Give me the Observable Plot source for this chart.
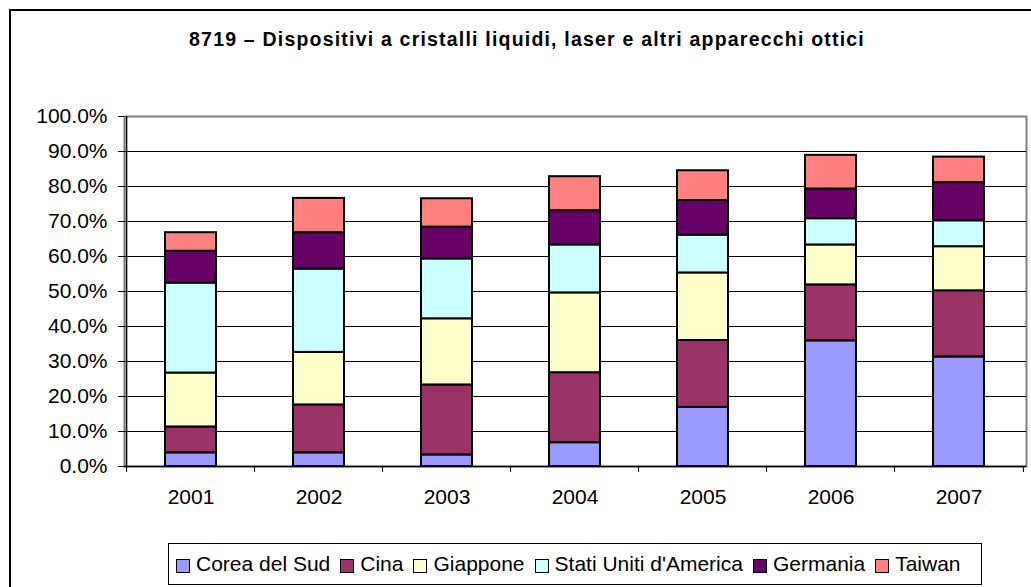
<!DOCTYPE html>
<html>
<head>
<meta charset="utf-8">
<script src="https://cdn.jsdelivr.net/npm/d3@7"></script>
<script src="https://cdn.jsdelivr.net/npm/@observablehq/plot@0.6"></script>
<style>
  html, body { margin: 0; padding: 0; background: #fff; overflow: hidden; width: 1031px; height: 587px; }
  body { position: relative; font-family: "Liberation Sans", Arial, sans-serif; }
  #frame { position: absolute; left: 9px; top: 9px; width: 1100px; height: 700px; border: 2px solid #000; box-sizing: border-box; }
  #title { position: absolute; left: 0; width: 1054px; top: 30px; text-align: center; font-weight: bold; font-size: 19.5px; letter-spacing: 1.2px; line-height: 19px; color: #000; white-space: nowrap; }
  #chart { position: absolute; left: 0; top: 0; }
  #legend { position: absolute; left: 168px; top: 543px; width: 814px; height: 42px; border: 1px solid #000; box-sizing: border-box; display: flex; align-items: center; padding-left: 7px; font-size: 21px; white-space: nowrap; }
  .item { display: flex; align-items: center; margin-right: 10px; }
  .sw { width: 12px; height: 12px; border: 1.5px solid #000; margin-right: 6px; margin-top: 3px; }
</style>
</head>
<body>
<div id="frame"></div>
<div id="title"></div>
<div id="chart"></div>
<div id="legend"></div>
<script>
const titleText = "8719 – Dispositivi a cristalli liquidi, laser e altri apparecchi ottici";
const years = ["2001", "2002", "2003", "2004", "2005", "2006", "2007"];
const seriesNames = ["Corea del Sud", "Cina", "Giappone", "Stati Uniti d'America", "Germania", "Taiwan"];
const seriesColors = ["#9999FF", "#993366", "#FFFFCC", "#CCFFFF", "#660066", "#FF8080"];
const coreaDelSud = [0.039, 0.039, 0.033, 0.068, 0.169, 0.359, 0.313];
const cina        = [0.074, 0.137, 0.200, 0.200, 0.191, 0.160, 0.189];
const giappone    = [0.154, 0.150, 0.189, 0.228, 0.193, 0.114, 0.126];
const statiUniti  = [0.257, 0.238, 0.171, 0.137, 0.108, 0.075, 0.074];
const germania    = [0.091, 0.104, 0.091, 0.098, 0.099, 0.085, 0.109];
const taiwan      = [0.053, 0.098, 0.081, 0.097, 0.085, 0.096, 0.073];
const yTicks = [0, 0.1, 0.2, 0.3, 0.4, 0.5, 0.6, 0.7, 0.8, 0.9, 1.0];

const seriesValues = [coreaDelSud, cina, giappone, statiUniti, germania, taiwan];
const data = [];
seriesNames.forEach((s, i) => years.forEach((y, j) => data.push({year: y, series: s, value: seriesValues[i][j]})));

document.getElementById("title").textContent = titleText;

const W = 1031, H = 530, mL = 124, mR = 5, mT = 116, mB = 64;
const step = (W - mL - mR) / years.length;
const font = '"Liberation Sans", Arial, sans-serif';

const chart = Plot.plot({
  width: W, height: H,
  marginLeft: mL, marginRight: mR, marginTop: mT, marginBottom: mB,
  style: {fontFamily: font, fontSize: "21px", color: "#000", background: "transparent"},
  x: {domain: years, type: "band", paddingInner: 0.6, paddingOuter: 0.3, axis: null},
  y: {domain: [0, 1], axis: null},
  color: {domain: seriesNames, range: seriesColors},
  marks: [
    Plot.frame({stroke: "#808080", strokeWidth: 2}),
    Plot.ruleY(yTicks.slice(1, -1), {stroke: "#000", strokeWidth: 1}),
    Plot.barY(data, {x: "year", y: "value", fill: "series", stroke: "#000", strokeWidth: 2}),
    Plot.ruleY([0], {stroke: "#000", strokeWidth: 1.5}),
    Plot.ruleX([years[0]], {dx: -step / 2, stroke: "#000", strokeWidth: 1.5}),
    Plot.axisY({ticks: yTicks, tickSize: 6, tickPadding: 11, tickFormat: d => (d * 100).toFixed(1) + "%", stroke: "#000", fill: "#000", fontSize: 21, label: null}),
    Plot.axisX({tickSize: 0, tickPadding: 23, fill: "#000", fontSize: 21, label: null}),
    Plot.axisX({tickSize: 6, dx: -step / 2, tickFormat: () => "", stroke: "#000", label: null}),
    Plot.axisX([years[years.length - 1]], {tickSize: 6, dx: step / 2, tickFormat: () => "", stroke: "#000", label: null})
  ]
});
document.getElementById("chart").appendChild(chart);

const legend = document.getElementById("legend");
seriesNames.forEach((s, i) => {
  const item = document.createElement("div");
  item.className = "item";
  const sw = document.createElement("div");
  sw.className = "sw";
  sw.style.background = seriesColors[i];
  const t = document.createElement("span");
  t.textContent = s;
  item.appendChild(sw);
  item.appendChild(t);
  legend.appendChild(item);
});
</script>
</body>
</html>
